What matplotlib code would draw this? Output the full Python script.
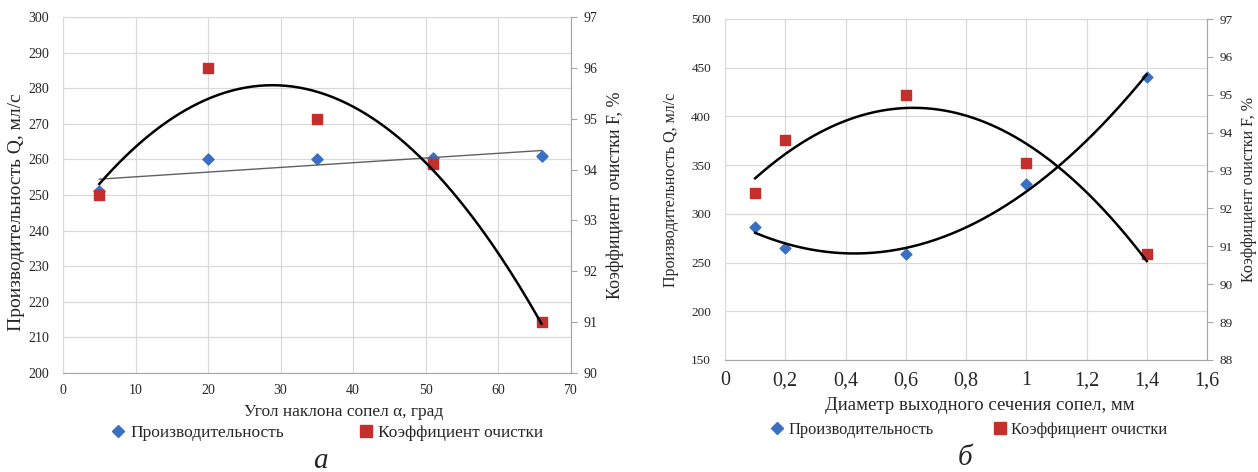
import numpy as np
import matplotlib
matplotlib.use("Agg")
import matplotlib.pyplot as plt
from matplotlib.lines import Line2D

plt.rcParams["font.family"] = ["Liberation Serif", "DejaVu Serif"]

# --------------------------------------------------------------
# Data
# --------------------------------------------------------------
# chart "а": nozzle angle
angle = [5, 20, 35, 51, 66]
q_angle = [251, 260, 260, 260.3, 261]
f_angle = [93.5, 96.0, 95.0, 94.1, 91.0]

# chart "б": nozzle outlet diameter
diam = [0.1, 0.2, 0.6, 1.0, 1.4]
q_diam = [286, 265, 259, 331, 440]
f_diam = [92.4, 93.8, 95.0, 93.2, 90.8]

ticks_a_x = [0, 10, 20, 30, 40, 50, 60, 70]
ticks_a_q = [200, 210, 220, 230, 240, 250, 260, 270, 280, 290, 300]
ticks_a_f = [90, 91, 92, 93, 94, 95, 96, 97]

ticks_b_x = [0, 0.2, 0.4, 0.6, 0.8, 1.0, 1.2, 1.4, 1.6]
labels_b_x = ["0", "0,2", "0,4", "0,6", "0,8", "1", "1,2", "1,4", "1,6"]
ticks_b_q = [150, 200, 250, 300, 350, 400, 450, 500]
ticks_b_f = [88, 89, 90, 91, 92, 93, 94, 95, 96, 97]

lbl_q = "Производительность Q, мл/с"
lbl_f = "Коэффициент очистки F, %"
leg_q = "Производительность"
leg_f = "Коэффициент очистки"

BLUE = "#3b6fc3"
RED = "#c3302c"
GRID = "#d9d9d9"
TXT = "#262626"

# --------------------------------------------------------------
# Figure / helpers (pixel layout)
# --------------------------------------------------------------
W, H = 1258, 472
fig = plt.figure(figsize=(W / 100, H / 100), dpi=100)


def box(x0, y0, x1, y1):
    return [x0 / W, 1 - y1 / H, (x1 - x0) / W, (y1 - y0) / H]


def ftext(x, y, s, **kw):
    kw.setdefault("ha", "center")
    kw.setdefault("va", "center")
    kw.setdefault("color", TXT)
    fig.text(x / W, 1 - y / H, s, **kw)


def style(ax, ax2, xsize, ysize):
    ax.grid(True, color=GRID, lw=0.9)
    ax.set_axisbelow(True)
    for sp in ax.spines.values():
        sp.set_color(GRID)
    for sp in ax2.spines.values():
        sp.set_visible(False)
    ax2.spines["right"].set_visible(True)
    ax2.spines["right"].set_color("#a6a6a6")
    ax.spines["bottom"].set_color("#a6a6a6")
    ax.tick_params(axis="x", length=0, labelsize=xsize, labelcolor=TXT, pad=8)
    ax.tick_params(axis="y", length=0, labelsize=ysize, labelcolor=TXT, pad=10)
    ax2.tick_params(axis="y", length=4, width=0.8, color="#a6a6a6",
                    labelsize=ysize, labelcolor=TXT, pad=5)


def trend(ax, x, y, deg, **kw):
    coef = np.polyfit(x, y, deg)
    xs = np.linspace(min(x), max(x), 200)
    ax.plot(xs, np.polyval(coef, xs), zorder=5, **kw)


# --------------------------------------------------------------
# Chart а
# --------------------------------------------------------------
ax_a = fig.add_axes(box(63, 17, 570.5, 373))
ax_a2 = ax_a.twinx()
ax_a.scatter(angle, q_angle, marker="D", s=32, color=BLUE, zorder=3)
ax_a2.scatter(angle, f_angle, marker="s", s=58, color=RED, zorder=3)
trend(ax_a, angle, q_angle, 1, color="#606060", lw=1.0)
trend(ax_a2, angle, f_angle, 2, color="black", lw=1.8)

ax_a.set_xlim(0, 70)
ax_a.set_ylim(200, 300)
ax_a2.set_ylim(90, 97)
ax_a.set_xticks(ticks_a_x)
ax_a.set_yticks(ticks_a_q)
ax_a2.set_yticks(ticks_a_f)
style(ax_a, ax_a2, 10, 10)

ftext(17, 212, lbl_q, rotation=90, fontsize=14)
ftext(615, 195, lbl_f, rotation=90, fontsize=13)
ftext(344, 412, "Угол наклона сопел α, град", fontsize=12.5)
ftext(320, 461, "а", fontsize=21, style="italic")

# --------------------------------------------------------------
# Chart б
# --------------------------------------------------------------
ax_b = fig.add_axes(box(725, 19, 1207, 360))
ax_b2 = ax_b.twinx()
ax_b.scatter(diam, q_diam, marker="D", s=30, color=BLUE, zorder=3)
ax_b2.scatter(diam, f_diam, marker="s", s=58, color=RED, zorder=3)
trend(ax_b, diam, q_diam, 2, color="black", lw=1.8)
trend(ax_b2, diam, f_diam, 2, color="black", lw=1.8)

ax_b.set_xlim(0, 1.6)
ax_b.set_ylim(150, 500)
ax_b2.set_ylim(88, 97)
ax_b.set_xticks(ticks_b_x)
ax_b.set_xticklabels(labels_b_x)
ax_b.set_yticks(ticks_b_q)
ax_b2.set_yticks(ticks_b_f)
style(ax_b, ax_b2, 14.5, 9.5)

ftext(671, 190, lbl_q, rotation=90, fontsize=11.5)
ftext(1249, 190, lbl_f, rotation=90, fontsize=11.5)
ftext(980, 406, "Диаметр выходного сечения сопел, мм", fontsize=13.5)
ftext(965, 458, "б", fontsize=21, style="italic")

# --------------------------------------------------------------
# Legends
# --------------------------------------------------------------
handles = [
    Line2D([], [], ls="none", marker="D", ms=6, color=BLUE),
    Line2D([], [], ls="none", marker="s", ms=8, color=RED),
]
for cx, cy, gap, fs in [(327, 433, 4.3, 12.5), (969, 430, 3.6, 11.8)]:
    fig.legend(handles, [leg_q, leg_f], loc="center",
               bbox_to_anchor=(cx / W, 1 - cy / H), ncol=2, frameon=False,
               handlelength=0.8, handletextpad=0.3, columnspacing=gap,
               fontsize=fs, labelcolor=TXT, borderpad=0)

fig.savefig("out.png", dpi=100)
